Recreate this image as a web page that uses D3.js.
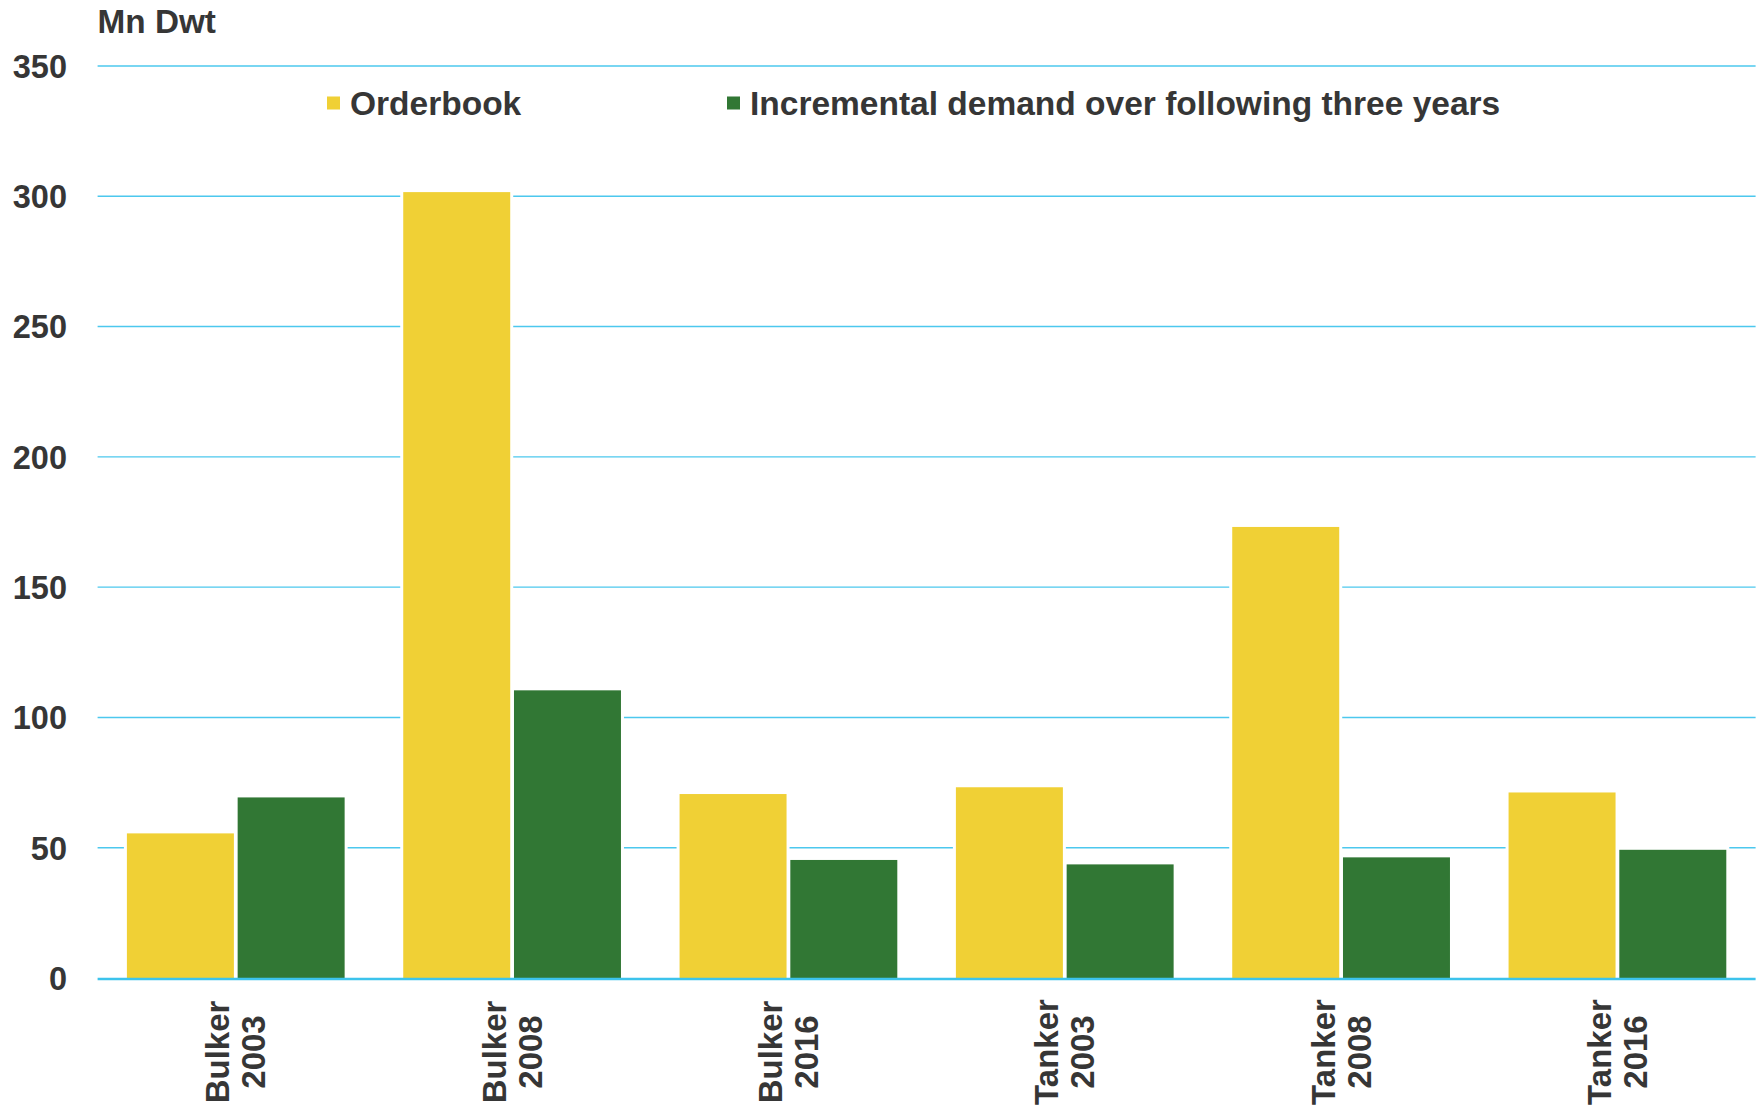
<!DOCTYPE html>
<html>
<head>
<meta charset="utf-8">
<script src="https://cdn.jsdelivr.net/npm/d3@7"></script>
<style>
  html, body { margin: 0; padding: 0; background: #ffffff; }
  svg { display: block; }
  text { font-family: "Liberation Sans", Arial, sans-serif; font-weight: bold; fill: #363636; }
</style>
</head>
<body>
<svg id="chart" width="1759" height="1109"></svg>
<script>
// Vessel segment and orderbook year
const categories = [
  ["Bulker", "2003"], ["Bulker", "2008"], ["Bulker", "2016"],
  ["Tanker", "2003"], ["Tanker", "2008"], ["Tanker", "2016"]
];
const seriesNames = ["Orderbook", "Incremental demand over following three years"];
const seriesColors = ["#F0D035", "#317734"];
// Mn Dwt
const orderbook   = [55.5, 301.6, 70.6, 73.2, 173.1, 71.2];
const incremental = [69.3, 110.4, 45.3, 43.6, 46.3, 49.2];
const yTicks = [0, 50, 100, 150, 200, 250, 300, 350];
const yUnit = "Mn Dwt";

const svg = d3.select("#chart");
const plotLeft = 97.6, plotRight = 1755.6, plotTop = 66, plotBottom = 978;

const keys = categories.map(c => c.join(" "));
const x0 = d3.scaleBand().domain(keys).range([plotLeft, plotRight]).padding(0);
const groupPad = 29.3;
const x1 = d3.scaleBand().domain(seriesNames)
  .range([groupPad, x0.bandwidth() - groupPad]).paddingInner(0.034);
const y = d3.scaleLinear().domain([0, 350]).range([plotBottom, plotTop]);

// Horizontal gridlines
svg.append("g").selectAll("line").data(yTicks.filter(t => t !== 0)).join("line")
  .attr("x1", plotLeft).attr("x2", plotRight)
  .attr("y1", d => y(d)).attr("y2", d => y(d))
  .attr("stroke", "#4cc8ee").attr("stroke-width", 1.4);

// Y axis labels
const yAxis = d3.axisLeft(y).tickValues(yTicks).tickSize(0).tickPadding(0);
const gy = svg.append("g").attr("transform", "translate(67,0)").call(yAxis);
gy.select(".domain").remove();
gy.attr("font-family", null).attr("font-size", null);
gy.selectAll("text")
  .attr("font-size", 32.5).attr("fill", "#363636")
  .attr("dy", "0.35em").attr("x", 0).attr("text-anchor", "end");

// Bars
const rows = categories.map((c, i) => ({ key: keys[i], values: [orderbook[i], incremental[i]] }));
const groups = svg.append("g").selectAll("g").data(rows).join("g")
  .attr("transform", d => `translate(${x0(d.key)},0)`);
groups.selectAll("rect")
  .data(d => d.values.map((v, j) => ({ name: seriesNames[j], value: v, color: seriesColors[j] })))
  .join("rect")
  .attr("x", d => x1(d.name))
  .attr("width", x1.bandwidth())
  .attr("y", d => y(d.value))
  .attr("height", d => y(0) - y(d.value))
  .attr("fill", d => d.color)
  .attr("stroke", "#ffffff").attr("stroke-width", 6)
  .style("paint-order", "stroke");

// Baseline
svg.append("line")
  .attr("x1", plotLeft).attr("x2", plotRight)
  .attr("y1", y(0) + 1).attr("y2", y(0) + 1)
  .attr("stroke", "#3cc3ec").attr("stroke-width", 2.4);

// Category labels, rotated, two lines each
const xl = svg.append("g").selectAll("g").data(categories).join("g")
  .attr("transform", (d, i) => `translate(${x0(keys[i]) + x0.bandwidth() / 2},1052) rotate(-90)`);
xl.append("text").attr("text-anchor", "middle").attr("font-size", 33)
  .attr("y", -18).attr("dominant-baseline", "central").text(d => d[0]);
xl.append("text").attr("text-anchor", "middle").attr("font-size", 33)
  .attr("y", 18).attr("dominant-baseline", "central").text(d => d[1]);

// Unit label
svg.append("text").attr("x", plotLeft).attr("y", 33).attr("font-size", 33.3).text(yUnit);

// Legend
const legendX = [327, 727];
const lg = svg.append("g").selectAll("g").data(seriesNames).join("g")
  .attr("transform", (d, i) => `translate(${legendX[i]},103)`);
lg.append("rect").attr("x", 0).attr("y", -6.5).attr("width", 13).attr("height", 13)
  .attr("fill", (d, i) => seriesColors[i]);
lg.append("text").attr("x", 23).attr("dy", "0.35em").attr("font-size", 33.5).text(d => d);
</script>
</body>
</html>
